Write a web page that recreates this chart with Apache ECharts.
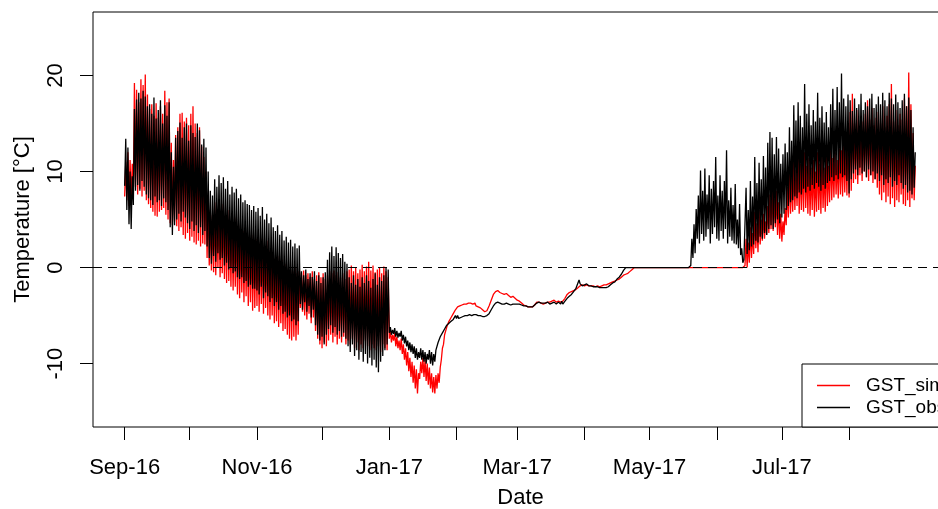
<!DOCTYPE html>
<html><head><meta charset="utf-8">
<script src="https://cdn.jsdelivr.net/npm/echarts@6/dist/echarts.min.js"></script>
<style>html,body{margin:0;padding:0;background:#fff}#c{width:938px;height:509px}</style>
</head><body><div id="c"></div>
<script>
// Month tick marks (first day of each month) and the labelled subset
const monthTicks = ['Sep-16','Oct-16','Nov-16','Dec-16','Jan-17','Feb-17','Mar-17','Apr-17','May-17','Jun-17','Jul-17','Aug-17'];
const labeledMonths = ['Sep-16','Nov-16','Jan-17','Mar-17','May-17','Jul-17'];
const yTicks = [-10, 0, 10, 20];
const seriesNames = ['GST_sim', 'GST_obs'];

// Daily maxima / minima, day 0 = 1 Sep 2016 ... day 364 = 31 Aug 2017
const obsHi = [
13.4,12.5,10.0,9.5,16.5,17.5,18.2,17.6,18.4,17.8,
16.8,17.0,16.0,17.7,15.5,16.4,17.4,15.0,16.9,15.8,
17.2,12.0,10.5,13.5,14.2,15.1,13.5,14.6,15.0,13.2,
14.8,14.0,13.6,15.0,14.3,12.8,13.4,12.5,10.0,8.0,
7.5,9.2,8.4,9.6,8.8,9.4,8.2,9.0,7.6,8.4,
7.8,8.2,7.2,7.6,6.8,7.0,6.6,6.5,6.0,6.4,
5.8,6.2,5.4,6.3,5.0,5.6,4.6,5.2,4.2,3.8,
4.4,3.4,3.8,2.8,3.2,2.6,2.9,2.2,2.5,2.0,
2.3,-0.4,-0.8,-0.2,-1.2,-0.6,-1.0,-0.4,-1.4,-0.8,
-1.6,-1.0,-0.5,0.8,1.6,2.2,1.2,2.1,1.5,1.0,
1.4,0.6,0.4,-1.0,-1.6,-0.8,-1.8,-1.2,-2.0,-1.0,
-1.6,-0.8,-1.4,-2.1,-1.2,-0.6,-1.8,-1.0,-1.4,-0.8,
0.0,-0.2,-6.2,-6.5,-6.3,-6.6,-6.8,-6.6,-7.0,-7.2,
-7.6,-7.8,-8.0,-8.2,-8.4,-8.8,-8.4,-8.6,-8.8,-9.0,
-8.6,-8.8,-9.0,-8.6,-7.8,-7.2,-6.8,-6.4,-6.0,-5.8,
-5.6,-5.4,-5.0,-5.0,-5.1,-5.0,-4.9,-4.8,-4.8,-4.7,
-4.8,-4.7,-4.7,-4.8,-4.9,-4.9,-4.9,-4.8,-4.6,-4.2,
-3.8,-3.5,-3.4,-3.5,-3.6,-3.6,-3.5,-3.6,-3.7,-3.6,
-3.6,-3.6,-3.6,-3.7,-3.8,-3.8,-3.9,-3.9,-3.9,-3.7,
-3.5,-3.4,-3.5,-3.6,-3.5,-3.4,-3.6,-3.5,-3.4,-3.6,
-3.4,-3.5,-3.6,-3.3,-3.0,-2.8,-2.6,-2.3,-1.9,-1.3,
-1.5,-1.7,-1.6,-1.5,-1.7,-1.8,-1.8,-1.9,-1.9,-1.9,
-2.0,-2.0,-1.9,-1.8,-1.6,-1.5,-1.3,-1.1,-0.9,-0.5,
-0.2,0,0,0,0,0,0,0,0,0,
0,0,0,0,0,0,0,0,0,0,
0,0,0,0,0,0,0,0,0,0,
0,3.0,4.5,6.1,7.5,10.1,8.0,10.3,7.6,9.6,
8.2,9.0,11.5,7.5,9.6,8.0,9.0,12.2,7.0,8.3,
6.5,8.7,5.0,6.6,2.0,0.8,8.3,6.0,9.0,7.4,
11.5,8.8,10.9,9.2,11.6,10.4,13.0,14.1,13.5,11.8,
13.6,12.4,10.8,11.8,12.9,12.0,14.6,13.2,16.9,15.3,
17.2,15.8,14.6,19.1,16.0,17.0,14.8,16.4,15.2,18.2,
15.6,16.8,15.1,16.2,14.6,17.0,18.6,16.4,18.8,17.2,
20.2,17.6,16.8,18.0,17.4,16.3,17.6,16.6,17.0,18.1,
16.4,17.2,16.8,17.6,18.1,16.6,17.0,17.8,17.0,18.2,
17.4,16.8,18.2,17.6,17.0,18.0,17.2,16.6,17.4,18.1,
16.8,17.7,16.4,14.6,12.0
];
const obsLo = [
8.5,6.0,4.5,4.0,6.5,8.0,8.6,8.0,9.0,8.4,
7.6,7.2,7.0,6.5,7.4,6.8,7.0,6.4,7.2,6.8,
6.0,4.2,3.4,4.4,5.0,5.6,4.8,5.8,5.2,4.6,
4.0,4.8,3.8,4.4,3.6,4.2,3.4,3.8,2.2,1.0,
0.4,1.2,0.6,1.5,0.8,1.0,0.2,0.5,-0.2,0.0,
-0.6,-0.4,-1.0,-1.2,-1.0,-1.6,-1.4,-2.0,-1.8,-2.2,
-2.2,-2.4,-2.8,-2.0,-3.2,-2.6,-3.0,-3.6,-3.2,-4.0,
-3.6,-4.4,-4.0,-4.8,-4.6,-5.2,-5.0,-5.6,-5.4,-6.0,
-5.6,-3.8,-4.4,-3.6,-4.6,-4.0,-5.2,-4.4,-6.0,-7.0,
-7.6,-7.2,-8.0,-7.0,-6.4,-6.0,-6.8,-6.2,-7.0,-6.6,
-7.2,-6.8,-7.4,-8.2,-8.8,-8.0,-9.2,-8.6,-9.6,-8.8,
-9.8,-9.0,-10.0,-9.4,-10.2,-9.6,-10.4,-10.9,-9.8,-9.2,
-8.6,-8.0,-6.8,-7.0,-6.9,-7.2,-7.3,-7.2,-7.6,-7.9,
-8.2,-8.6,-8.8,-9.0,-9.4,-9.6,-9.4,-9.6,-9.8,-10.0,
-9.6,-10.0,-10.2,-9.8,-8.8,-8.0,-7.4,-7.0,-6.6,-6.2,
-6.0,-5.8,-5.4,-5.3,-5.3,-5.2,-5.1,-5.0,-5.0,-4.9,
-5.0,-4.9,-4.9,-5.0,-5.0,-5.1,-5.1,-5.0,-4.8,-4.4,
-4.0,-3.7,-3.6,-3.7,-3.8,-3.8,-3.7,-3.8,-3.9,-3.8,
-3.8,-3.8,-3.8,-3.9,-4.0,-4.0,-4.1,-4.1,-4.1,-3.9,
-3.7,-3.6,-3.7,-3.7,-3.7,-3.6,-3.8,-3.7,-3.6,-3.8,
-3.6,-3.8,-3.8,-3.5,-3.2,-3.0,-2.8,-2.5,-2.2,-1.8,
-1.7,-1.9,-1.8,-1.7,-1.9,-1.9,-2.0,-2.0,-2.0,-2.1,
-2.1,-2.1,-2.1,-2.0,-1.8,-1.6,-1.5,-1.2,-1.0,-0.7,
-0.3,0,0,0,0,0,0,0,0,0,
0,0,0,0,0,0,0,0,0,0,
0,0,0,0,0,0,0,0,0,0,
0,0.2,1.0,1.5,3.0,2.5,3.5,2.8,3.2,4.0,
2.5,3.5,4.2,3.0,2.8,3.8,3.0,4.0,2.5,3.2,
2.8,2.5,2.4,2.0,1.3,0.5,1.0,1.4,1.8,2.2,
2.4,2.8,2.6,3.2,3.0,3.6,3.4,4.0,4.4,4.0,
4.6,5.0,4.6,5.2,5.6,6.0,6.4,6.8,7.0,7.4,
7.2,7.8,7.6,8.2,7.8,8.4,8.0,8.6,8.2,8.8,
8.4,8.0,8.6,8.2,8.8,9.0,9.4,9.0,9.6,9.2,
9.8,9.4,9.6,9.0,7.7,9.2,9.8,10.2,9.6,10.4,
9.8,10.0,9.4,10.2,9.6,10.0,9.2,9.8,9.0,9.6,
8.6,9.2,8.8,9.4,8.4,9.0,8.6,9.6,8.8,8.2,
8.6,7.8,8.0,7.6,8.3
];
const simHi = [
11.0,12.0,11.2,10.8,19.2,18.5,17.2,19.6,19.0,20.1,
18.0,16.5,17.0,15.8,17.1,15.6,16.8,16.0,18.4,17.2,
17.6,13.0,11.2,13.8,14.6,16.0,16.1,15.2,15.6,14.8,
16.0,16.8,15.0,14.0,14.6,12.6,11.5,10.0,7.5,6.0,
5.5,6.8,6.0,6.4,5.8,6.6,5.2,6.0,4.8,5.6,
4.6,5.2,4.4,4.0,3.8,4.2,3.6,3.2,3.4,2.8,
3.0,3.2,2.6,3.0,2.2,2.8,1.8,2.0,1.4,1.0,
1.2,0.6,0.8,0.2,0.4,0.0,-0.2,-0.4,0.0,-0.6,
-0.4,-0.6,-0.3,-0.8,-0.6,-1.0,-0.4,-1.2,-0.8,-0.5,
-1.0,-0.6,-1.2,-0.8,-0.4,-0.6,-0.3,-0.8,-0.5,-1.0,
-0.6,-1.2,-0.4,-0.2,0.2,-0.4,0.0,-0.6,-0.2,0.3,
-0.4,0.1,0.6,-0.3,0.2,-0.5,-0.2,0.0,-0.6,0.1,
-0.4,-1.0,-6.6,-7.0,-6.8,-7.2,-7.6,-7.4,-8.0,-8.4,
-8.8,-9.4,-9.8,-10.2,-10.6,-11.0,-9.8,-9.4,-9.6,-10.0,
-10.4,-11.0,-11.4,-11.2,-11.0,-10.4,-8.4,-7.0,-6.2,-5.6,
-5.2,-4.8,-4.4,-4.1,-4.0,-3.9,-3.8,-3.8,-3.7,-3.7,
-3.8,-3.7,-3.8,-3.9,-4.0,-4.2,-4.4,-4.3,-3.8,-3.2,
-2.6,-2.3,-2.2,-2.4,-2.5,-2.6,-2.5,-2.7,-2.9,-2.8,
-3.0,-3.2,-3.3,-3.5,-3.7,-3.8,-3.9,-4.0,-3.9,-3.7,
-3.4,-3.4,-3.6,-3.6,-3.5,-3.4,-3.4,-3.3,-3.2,-3.4,
-3.3,-3.4,-3.3,-3.0,-2.6,-2.4,-2.3,-2.2,-2.1,-1.9,
-1.7,-1.7,-1.7,-1.7,-1.7,-1.8,-1.8,-1.8,-1.8,-1.8,
-1.7,-1.7,-1.7,-1.6,-1.5,-1.4,-1.3,-1.2,-1.1,-0.9,
-0.7,-0.6,-0.5,-0.3,-0.1,0,0,0,0,0,
0,0,0,0,0,0,0,0,0,0,
0,0,0,0,0,0,0,0,0,0,
0,0,0,0,0,0,0,0,0,0,
0,0,0,0,0,0,0,0,0,0,
0,0,0,0,0,0,3.0,2.6,4.2,3.6,
5.8,4.6,6.0,5.0,5.6,4.8,6.4,7.6,8.3,7.2,
8.0,6.8,5.6,4.8,6.2,8.4,10.0,9.4,11.0,10.2,
11.6,10.8,11.0,12.0,10.6,11.4,10.4,11.2,10.0,12.0,
10.8,11.6,10.4,11.8,10.6,12.2,11.4,12.0,11.2,12.4,
12.2,13.0,12.4,14.8,16.2,18.1,15.0,16.4,14.6,15.8,
15.2,16.0,17.4,15.4,16.6,14.8,15.6,16.2,15.0,16.8,
14.6,15.8,17.0,19.1,15.2,16.4,14.8,16.0,15.4,17.6,
16.8,20.3,17.0,14.0,10.6
];
const simLo = [
7.4,7.0,6.4,6.8,7.8,8.4,7.6,8.2,7.4,8.0,
7.0,6.6,6.2,5.8,5.4,5.3,5.8,6.0,6.2,5.5,
5.0,4.6,4.4,4.8,4.3,3.8,4.2,3.4,3.0,3.6,
2.8,3.2,2.6,2.4,2.8,2.2,2.5,2.4,1.0,0.2,
-0.3,-0.5,-0.8,0.0,-1.0,-0.6,-1.2,-1.6,-1.4,-2.0,
-2.4,-2.0,-2.8,-3.2,-2.6,-3.6,-3.0,-4.0,-3.6,-4.5,
-4.2,-4.0,-4.6,-3.8,-4.8,-4.2,-5.0,-5.4,-5.0,-5.8,
-5.6,-6.2,-5.8,-6.6,-6.4,-7.0,-7.4,-7.6,-7.2,-7.6,
-7.0,-4.2,-4.6,-5.0,-5.4,-4.8,-5.8,-5.2,-6.6,-7.4,
-8.0,-8.4,-7.8,-8.2,-7.6,-7.0,-7.8,-7.2,-8.0,-7.4,
-7.8,-7.2,-8.0,-7.6,-8.0,-7.4,-8.4,-7.8,-8.6,-8.0,
-8.4,-7.6,-8.2,-8.6,-8.0,-8.4,-8.6,-8.2,-8.8,-8.0,
-8.4,-8.6,-7.4,-7.8,-7.6,-8.2,-8.4,-8.6,-9.0,-9.6,
-10.2,-10.8,-11.4,-12.0,-12.6,-13.1,-11.6,-11.0,-11.4,-11.8,
-12.2,-12.6,-13.0,-13.1,-12.6,-12.0,-9.6,-8.0,-6.8,-6.2,
-5.8,-5.2,-4.8,-4.4,-4.2,-4.1,-4.0,-4.0,-3.9,-3.9,
-3.9,-3.9,-4.0,-4.1,-4.2,-4.4,-4.6,-4.5,-4.0,-3.4,
-2.8,-2.5,-2.4,-2.6,-2.7,-2.8,-2.7,-2.9,-3.1,-3.0,
-3.2,-3.4,-3.5,-3.7,-3.9,-4.0,-4.1,-4.1,-4.1,-3.9,
-3.6,-3.6,-3.7,-3.8,-3.7,-3.6,-3.6,-3.5,-3.4,-3.6,
-3.5,-3.6,-3.5,-3.2,-2.8,-2.6,-2.5,-2.4,-2.3,-2.1,
-1.9,-1.8,-1.9,-1.8,-1.9,-1.9,-1.9,-2.0,-1.9,-2.0,
-1.9,-1.8,-1.8,-1.7,-1.6,-1.5,-1.4,-1.3,-1.2,-1.0,
-0.8,-0.7,-0.6,-0.4,-0.2,0,0,0,0,0,
0,0,0,0,0,0,0,0,0,0,
0,0,0,0,0,0,0,0,0,0,
0,0,0,0,0,0,0,0,0,0,
0,0,0,0,0,0,0,0,0,0,
0,0,0,0,0,0,0.2,0.0,0.5,1.0,
1.4,2.0,1.6,2.4,2.8,3.0,3.4,3.6,4.0,3.8,
4.2,3.4,3.0,2.7,3.4,4.4,5.2,5.6,5.8,6.0,
6.4,5.6,6.0,5.8,6.2,5.6,5.4,6.0,5.3,5.8,
6.0,5.6,6.2,5.8,6.4,6.8,7.0,7.3,7.6,7.2,
7.6,7.4,7.8,7.5,7.3,8.0,8.8,9.2,8.7,9.6,
9.0,10.0,9.4,9.0,9.6,8.8,9.2,8.3,7.6,7.0,
7.8,6.8,7.4,6.6,7.2,6.3,7.0,6.8,7.6,6.6,
6.4,7.0,6.3,7.2,7.0
];

const MON = {Jan:0,Feb:1,Mar:2,Apr:3,May:4,Jun:5,Jul:6,Aug:7,Sep:8,Oct:9,Nov:10,Dec:11};
const START = Date.UTC(2016, 8, 1);
function dayOf(label) {
  const p = label.split('-');
  return Math.round((Date.UTC(2000 + Number(p[1]), MON[p[0]], 1) - START) / 86400000);
}
const tickDays = monthTicks.map(dayOf);
const labelDays = labeledMonths.map(dayOf);
const labelMap = {};
labeledMonths.forEach((l, i) => { labelMap[labelDays[i]] = l; });

function build(hi, lo) {
  const out = [];
  for (let d = 0; d < hi.length; d++) {
    out.push([d, lo[d]]);
    out.push([d + 0.5, hi[d]]);
  }
  return out;
}
const nDays = obsHi.length;
const pad = nDays * 0.04;

const FONT = "'Liberation Sans', Arial, sans-serif";
const chart = echarts.init(document.getElementById('c'), null, {renderer: 'canvas'});
chart.setOption({
  animation: false,
  backgroundColor: '#ffffff',
  grid: {left: 93, top: 12, width: 855, height: 415, outerBoundsMode: 'none', containLabel: false,
         show: true, borderColor: '#000', borderWidth: 1, backgroundColor: 'transparent'},
  legend: {
    data: seriesNames.map(n => ({name: n, icon: 'rect'})),
    orient: 'vertical',
    left: 802, top: 364,
    backgroundColor: '#fff',
    borderColor: '#000', borderWidth: 1, borderRadius: 0,
    padding: [12, 20, 10, 15],
    itemGap: 3,
    itemWidth: 33, itemHeight: 1.4,
    textStyle: {fontFamily: FONT, fontSize: 19, color: '#000', padding: [0, 0, 0, 11], lineHeight: 19}
  },
  xAxis: {
    type: 'value',
    min: -pad, max: nDays + pad,
    name: 'Date', nameLocation: 'middle', nameGap: 60,
    nameTextStyle: {fontFamily: FONT, fontSize: 22, color: '#000'},
    axisLine: {show: false, onZero: false},
    splitLine: {show: false},
    axisTick: {show: true, customValues: tickDays, length: 13, lineStyle: {color: '#000', width: 1}},
    axisLabel: {customValues: labelDays, formatter: v => labelMap[v] || '', fontFamily: FONT, fontSize: 22, color: '#000', margin: 30}
  },
  yAxis: {
    type: 'value',
    min: -16.6, max: 26.6,
    name: 'Temperature [°C]', nameLocation: 'middle', nameGap: 59, nameRotate: 90,
    nameTextStyle: {fontFamily: FONT, fontSize: 22, color: '#000'},
    axisLine: {show: false, onZero: false},
    splitLine: {show: false},
    axisTick: {show: true, customValues: yTicks, length: 13, lineStyle: {color: '#000', width: 1}},
    axisLabel: {customValues: yTicks, rotate: 90, fontFamily: FONT, fontSize: 22, color: '#000', margin: 26}
  },
  series: [
    {name: seriesNames[0], type: 'line', data: build(simHi, simLo), symbol: 'none', showSymbol: false,
     lineStyle: {color: '#ff0000', width: 1.3}, itemStyle: {color: '#ff0000'}},
    {name: seriesNames[1], type: 'line', data: build(obsHi, obsLo), symbol: 'none', showSymbol: false,
     lineStyle: {color: '#000000', width: 1.3}, itemStyle: {color: '#000000'},
     markLine: {silent: true, symbol: ['none', 'none'], label: {show: false},
       lineStyle: {color: '#000', type: [9, 6], width: 1.2}, data: [{yAxis: 0}]}}
  ]
});
</script></body></html>
